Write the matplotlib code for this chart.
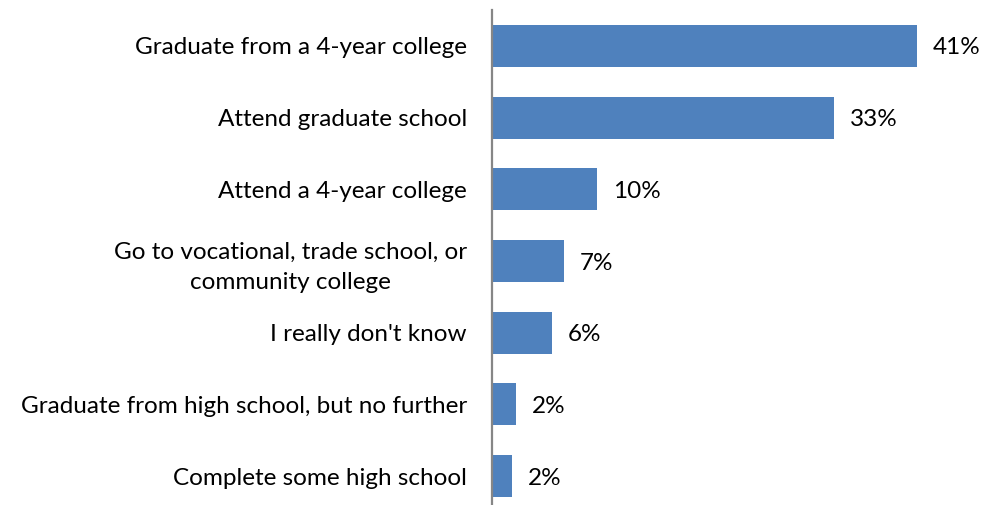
import matplotlib
matplotlib.use("Agg")
import matplotlib.pyplot as plt

categories = [
    "Graduate from a 4-year college",
    "Attend graduate school",
    "Attend a 4-year college",
    "Go to vocational, trade school, or\ncommunity college",
    "I really don't know",
    "Graduate from high school, but no further",
    "Complete some high school",
]
values = [41, 33, 10.1, 6.9, 5.8, 2.3, 1.9]

W, H = 982, 505
fig = plt.figure(figsize=(W / 100, H / 100), dpi=100)

px_per_unit = 10.37
xmax = 45
left, right = 492, 492 + xmax * px_per_unit
top, bottom = 10, 512
ax = fig.add_axes([left / W, 1 - bottom / H, (right - left) / W, (bottom - top) / H])

font = ["Lato", "DejaVu Sans"]
ypos = list(range(len(categories)))
ax.barh(ypos, values, height=0.585, color="#4F81BD", zorder=2)
ax.set_ylim(len(categories) - 0.5, -0.5)
ax.set_xlim(0, xmax)

for y, v in zip(ypos, values):
    ax.annotate(f"{v:.0f}%", (v, y), xytext=(16, -2), textcoords="offset pixels",
                ha="left", va="center", fontsize=17.5, family=font, color="black")

ax.set_yticks(ypos)
ax.set_yticklabels(categories, fontsize=17.5, family=font, color="black",
                   multialignment="center", linespacing=1.55)
ax.tick_params(axis="y", length=0, pad=18)
ax.set_xticks([])

for s in ("top", "right", "bottom"):
    ax.spines[s].set_visible(False)
ax.spines["left"].set_color("#868686")
ax.spines["left"].set_linewidth(1.6)

fig.savefig("out.png", dpi=100)
